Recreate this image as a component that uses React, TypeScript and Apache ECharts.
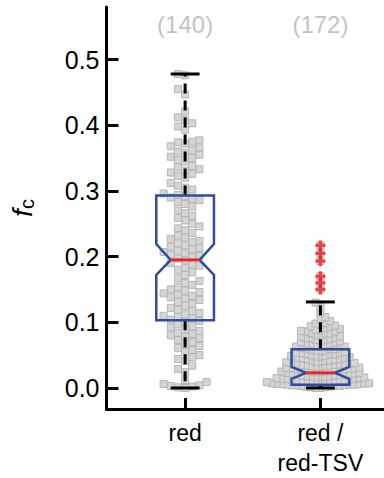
import React, { useEffect, useRef } from "react";
import * as echarts from "echarts";

// ---- data ----
const CATEGORIES = ["red", "red /\nred-TSV"];
const CATEGORY_X = [1, 2];

const RED_VALUES = [
  0.478, 0.476,
  0.455, 0.447,
  0.421, 0.412, 0.408, 0.403, 0.398, 0.393,
  0.377, 0.375, 0.374, 0.372, 0.368, 0.366, 0.362, 0.36, 0.358,
  0.355, 0.352, 0.35, 0.347, 0.345,
  0.338, 0.336, 0.333, 0.331, 0.328, 0.326, 0.323, 0.32,
  0.312, 0.308, 0.305, 0.302,
  0.296, 0.294, 0.292, 0.29, 0.288, 0.286, 0.283, 0.28, 0.276,
  0.27, 0.266, 0.262, 0.259, 0.255, 0.25, 0.246, 0.243, 0.24, 0.236,
  0.232, 0.229, 0.227, 0.224, 0.222, 0.22,
  0.217, 0.215, 0.213, 0.211, 0.209, 0.207, 0.205, 0.203, 0.201, 0.199, 0.197, 0.194,
  0.19, 0.188, 0.186, 0.183, 0.18, 0.176, 0.172,
  0.167, 0.163, 0.16, 0.157, 0.154,
  0.15, 0.148, 0.146, 0.144, 0.142, 0.14, 0.138, 0.136, 0.134, 0.131, 0.128, 0.125, 0.122, 0.119, 0.117,
  0.114, 0.112, 0.11, 0.108, 0.106, 0.104, 0.102, 0.1,
  0.097, 0.094, 0.092, 0.089, 0.087,
  0.084, 0.082, 0.08, 0.078, 0.076, 0.073, 0.07, 0.067, 0.064, 0.061, 0.058, 0.055,
  0.05, 0.047, 0.044, 0.041,
  0.034, 0.029, 0.024,
  0.012, 0.009, 0.006, 0.004, 0.003, 0.002, 0.001, 0.0,
];

const TSV_VALUES = [
  0.0, 0.0, 0.001, 0.001, 0.002, 0.002, 0.003, 0.003, 0.003, 0.004, 0.004, 0.004, 0.005,
  0.005, 0.005, 0.006, 0.006, 0.006, 0.007, 0.007, 0.007, 0.008, 0.008, 0.009, 0.009, 0.009,
  0.01, 0.01, 0.011, 0.011, 0.012, 0.012, 0.012, 0.013, 0.013, 0.014, 0.014, 0.014,
  0.015, 0.015, 0.016, 0.016, 0.016, 0.017, 0.017, 0.018, 0.018, 0.019, 0.019,
  0.02, 0.02, 0.021, 0.021, 0.022, 0.022, 0.023, 0.023, 0.024, 0.024, 0.025,
  0.025, 0.025, 0.026, 0.026, 0.027, 0.027, 0.028, 0.028, 0.029, 0.029,
  0.03, 0.03, 0.031, 0.031, 0.032, 0.032, 0.033, 0.033, 0.034, 0.034,
  0.035, 0.035, 0.036, 0.036, 0.037, 0.037, 0.038, 0.038, 0.039,
  0.04, 0.04, 0.041, 0.042, 0.042, 0.043, 0.044, 0.044, 0.045, 0.046, 0.046, 0.047, 0.048, 0.048, 0.049, 0.049,
  0.05, 0.051, 0.051, 0.052, 0.053, 0.054, 0.054, 0.055, 0.056, 0.057, 0.057, 0.058, 0.059, 0.059,
  0.06, 0.061, 0.062, 0.063, 0.063, 0.064, 0.065, 0.066, 0.067, 0.067, 0.068, 0.069,
  0.07, 0.071, 0.072, 0.073, 0.074, 0.075, 0.076, 0.076, 0.077, 0.078, 0.079,
  0.08, 0.081, 0.083, 0.083, 0.084, 0.086, 0.086, 0.087, 0.088, 0.089,
  0.09, 0.091, 0.093, 0.094, 0.095, 0.096, 0.098, 0.099,
  0.102, 0.105, 0.108,
  0.115, 0.123, 0.13,
  0.15, 0.16, 0.17, 0.193, 0.205, 0.217,
];

// box statistics (per category)
const WHISKER_LOW = [0.0, 0.0];
const Q1 = [0.103, 0.005];
const NOTCH_LOW = [0.172, 0.014];
const MEDIAN = [0.195, 0.023];
const NOTCH_HIGH = [0.219, 0.032];
const Q3 = [0.293, 0.059];
const WHISKER_HIGH = [0.478, 0.131];

const Y_TICKS = [0, 0.1, 0.2, 0.3, 0.4, 0.5];

// ---- layout ----
const W = 384;
const H = 478;
const GRID_LEFT = 105;
const GRID_TOP = 7;
const GRID_H = 405;
const GRID_W = W - GRID_LEFT;
const Y_MIN = -0.032;
const Y_MAX = 0.58;
const X_MIN = 0.419;
const X_MAX = 2.47;
const PX_PER_Y = GRID_H / (Y_MAX - Y_MIN);
const PX_PER_X = GRID_W / (X_MAX - X_MIN);
const FONT = "'Liberation Sans', Arial, Helvetica, sans-serif";

// deterministic beeswarm: offsets (px) so squares do not collide more than d
function swarm(values: number[], d: number): number[] {
  const order = values.map((_, i) => i).sort((a, b) => values[a] - values[b]);
  const placed: { x: number; y: number }[] = [];
  const out = new Array(values.length).fill(0);
  order.forEach((i, k) => {
    const y = values[i] * PX_PER_Y;
    const near = placed.filter((p) => Math.abs(p.y - y) < d - 1e-9);
    const cands = [0];
    near.forEach((p) => cands.push(p.x + d, p.x - d));
    const pref = k % 2 === 0 ? 1 : -1;
    cands.sort((a, b) => Math.abs(a) - Math.abs(b) || (b - a) * pref);
    let chosen = 0;
    for (const c of cands) {
      if (near.every((p) => Math.abs(p.x - c) >= d - 1e-9)) {
        chosen = c;
        break;
      }
    }
    placed.push({ x: chosen, y });
    out[i] = chosen;
  });
  return out;
}

const PLUS = "path://M3,0H6V3H9V6H6V9H3V6H0V3H3Z";

export default function App() {
  const ref = useRef<HTMLDivElement>(null);
  useEffect(() => {
    if (!ref.current) return;
    const chart = echarts.init(ref.current, undefined, { renderer: "svg" });
    const groups = [RED_VALUES, TSV_VALUES];
    const spacing = [7.2, 4.9];
    const points: number[][] = [];
    const outliers: number[][] = [];
    groups.forEach((vals, g) => {
      const offs = swarm(vals, spacing[g]);
      vals.forEach((v, i) => {
        points.push([CATEGORY_X[g] + offs[i] / PX_PER_X, v]);
        if (v > WHISKER_HIGH[g] || v < WHISKER_LOW[g]) outliers.push([CATEGORY_X[g], v]);
      });
    });
    const boxData = CATEGORY_X.map((x, i) => [
      x, WHISKER_LOW[i], Q1[i], NOTCH_LOW[i], MEDIAN[i], NOTCH_HIGH[i], Q3[i], WHISKER_HIGH[i],
    ]);
    const countData = CATEGORY_X.map((x, i) => [x, 0.553, groups[i].length]);
    const HW = 29 / PX_PER_X;
    const CAP = 14.5 / PX_PER_X;

    chart.setOption({
      animation: false,
      grid: { left: GRID_LEFT, top: GRID_TOP, width: GRID_W, height: GRID_H },
      xAxis: {
        type: "value",
        min: X_MIN,
        max: X_MAX,
        splitLine: { show: false },
        axisLine: { show: true, onZero: false, lineStyle: { color: "#000", width: 3 } },
        axisTick: { show: true, inside: true, length: 11, customValues: CATEGORY_X, lineStyle: { color: "#000", width: 3 } },
        axisLabel: {
          show: true,
          customValues: CATEGORY_X,
          formatter: (v: number) => CATEGORIES[Math.round(v) - 1] ?? "",
          color: "#000",
          fontSize: 23,
          fontFamily: FONT,
          lineHeight: 30,
          margin: 9,
        },
      },
      yAxis: {
        type: "value",
        min: Y_MIN,
        max: Y_MAX,
        splitLine: { show: false },
        axisLine: { show: true, lineStyle: { color: "#000", width: 3 } },
        axisTick: { show: true, inside: true, length: 12, customValues: Y_TICKS, lineStyle: { color: "#000", width: 3 } },
        axisLabel: {
          show: true,
          customValues: Y_TICKS,
          formatter: (v: number) => v.toFixed(1),
          color: "#000",
          fontSize: 25,
          fontFamily: FONT,
          margin: 7,
        },
        name: "{f|f}{c|c}",
        nameLocation: "middle",
        nameRotate: 90,
        nameGap: 70,
        nameTextStyle: {
          rich: {
            f: { fontStyle: "italic", fontSize: 28, fontFamily: FONT, color: "#000" },
            c: { fontSize: 20, fontFamily: FONT, color: "#000", padding: [9, 0, 0, 0] },
          },
        },
      },
      series: [
        {
          type: "scatter",
          z: 1,
          data: points,
          symbol: "rect",
          symbolSize: 7,
          itemStyle: { color: "#d5d5d5", borderColor: "#b6b6b6", borderWidth: 1, opacity: 1 },
          silent: true,
        },
        {
          type: "custom",
          z: 5,
          data: boxData,
          renderItem: (params: any, api: any) => {
            const x = api.value(0);
            const lo = api.value(1), q1 = api.value(2), nl = api.value(3), md = api.value(4);
            const nh = api.value(5), q3 = api.value(6), hi = api.value(7);
            const p = (dx: number, v: number) => api.coord([x + dx, v]);
            const dash = { stroke: "#000", lineWidth: 3, lineDash: [10, 7] };
            const solid = { stroke: "#000", lineWidth: 3 };
            const line = (a: number[], b: number[], style: any) => ({
              type: "line",
              shape: { x1: a[0], y1: a[1], x2: b[0], y2: b[1] },
              style,
            });
            return {
              type: "group",
              children: [
                line(p(0, q3), p(0, hi), dash),
                line(p(0, q1), p(0, lo), dash),
                line(p(-CAP, hi), p(CAP, hi), solid),
                line(p(-CAP, lo), p(CAP, lo), solid),
                {
                  type: "polygon",
                  shape: {
                    points: [
                      p(-HW, q1), p(-HW, nl), p(-HW / 2, md), p(-HW, nh), p(-HW, q3),
                      p(HW, q3), p(HW, nh), p(HW / 2, md), p(HW, nl), p(HW, q1),
                    ],
                  },
                  style: { fill: "none", stroke: "#2f4da0", lineWidth: 2.5 },
                },
                line(p(-HW / 2, md), p(HW / 2, md), { stroke: "#e8262a", lineWidth: 3 }),
              ],
            };
          },
        },
        {
          type: "scatter",
          z: 6,
          data: outliers,
          symbol: PLUS,
          symbolSize: 10,
          itemStyle: { color: "#ee1d25" },
          silent: true,
        },
        {
          type: "scatter",
          z: 6,
          data: countData,
          symbolSize: 0,
          silent: true,
          label: {
            show: true,
            position: "inside",
            formatter: (pp: any) => `(${pp.value[2]})`,
            color: "#b3b3b3",
            fontSize: 24,
            fontFamily: FONT,
          },
        },
      ],
    });
    return () => chart.dispose();
  }, []);
  return <div ref={ref} style={{ position: "fixed", left: 0, top: 0, width: W, height: H, background: "#fff" }} />;
}
